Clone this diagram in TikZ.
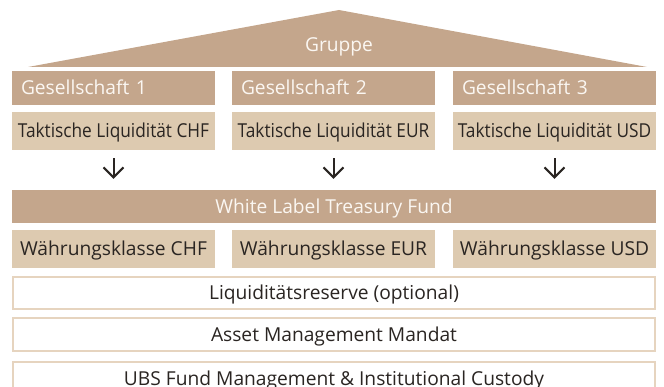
\documentclass[tikz,border=0pt]{standalone}
\usepackage{fontspec}
\setmainfont{Open Sans}
\newfontfamily\schmal[FakeStretch=0.9]{Open Sans}
\usepackage{tikz}
\usetikzlibrary{arrows.meta}
\definecolor{dunkel}{HTML}{C4A68C}
\definecolor{hell}{HTML}{DDCAB0}
\definecolor{rand}{HTML}{E6D4BF}
\definecolor{schrift}{HTML}{2A2522}
\definecolor{weiss}{HTML}{FBF7F2}

\begin{document}
\begin{tikzpicture}[x=1pt,y=-1pt]
			\tikzset{font=\fontsize{19.2}{22}\selectfont,text height=16pt,text depth=2pt,inner sep=0pt}
			
			\tikzset{firma/.style = {fill=dunkel,text=weiss,minimum height=34pt,text width=185pt,inner xsep=9pt,align=left}}
			
			\tikzset{kasse/.style = {fill=hell,text=schrift,minimum width=203pt,minimum height=38pt}}
			
			\tikzset{schicht/.style = {draw=rand,line width=2pt,fill=white,text=schrift,minimum width=642pt,minimum height=32pt}}
			
			\tikzset{pfeil/.style = {draw=schrift,line width=2pt,-{Straight Barb[length=10pt,width=20pt]},shorten <=8pt,shorten >=11pt}}
			
			\useasboundingbox (0,0) rectangle (664,387);
			
			% dach
			
			\fill[dunkel] (28,67) -- (339,10) -- (647,67) -- cycle;
			
			\node[text=weiss] (gruppe) at (339,45) {Gruppe};
			
			% gesellschaften
			
			\node[firma] (g1) at (113.5,88) {Gesellschaft 1};
			
			\node[firma] (g2) at (333.5,88) {Gesellschaft 2};
			
			\node[firma] (g3) at (554.5,88) {Gesellschaft 3};
			
			\node[kasse] (t1) at (113.5,131) {\schmal Taktische Liquidität CHF};
			
			\node[kasse] (t2) at (333.5,131) {\schmal Taktische Liquidität EUR};
			
			\node[kasse] (t3) at (554.5,131) {\schmal Taktische Liquidität USD};
			
			% fonds
			
			\node[fill=dunkel,text=weiss,minimum width=644pt,minimum height=33pt] (wl) at (334,206.5) {White Label Treasury Fund};
			
			\node[kasse] (w1) at (113.5,249) {Währungsklasse CHF};
			
			\node[kasse] (w2) at (333.5,249) {Währungsklasse EUR};
			
			\node[kasse] (w3) at (554.5,249) {Währungsklasse USD};
			
			\node[schicht] (reserve) at (334,293) {Liquiditätsreserve (optional)};
			
			\node[schicht,minimum height=33pt] (mandat) at (334,334.5) {Asset Management Mandat};
			
			\node[schicht] (ubs) at (334,378) {UBS Fund Management \& Institutional Custody};
			
			%pfeile
			
			\begin{scope}
			\draw[pfeil] (t1.south) -- (t1.south |- wl.north);
			\draw[pfeil] (t2.south) -- (t2.south |- wl.north);
			\draw[pfeil] (t3.south) -- (t3.south |- wl.north);
			\end{scope}
			\end{tikzpicture}
\end{document}
